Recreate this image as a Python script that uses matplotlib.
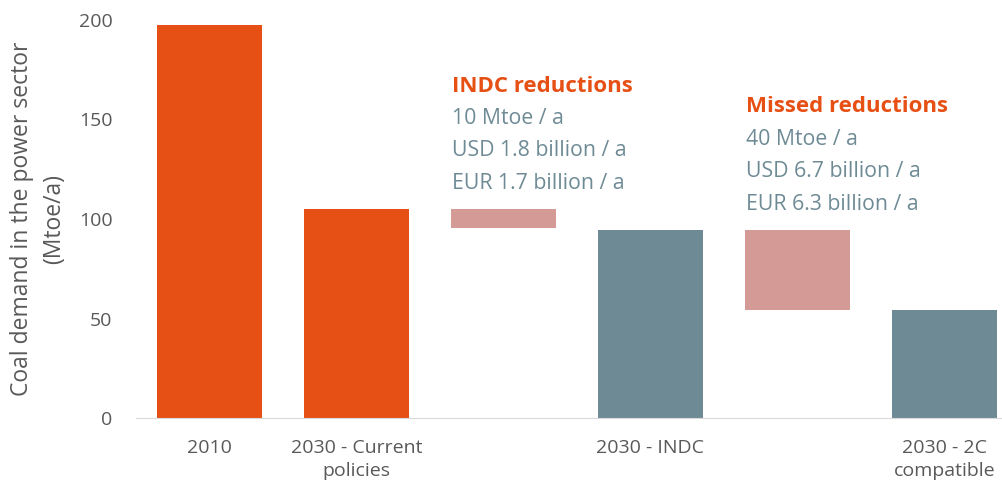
import matplotlib.pyplot as plt
import numpy as np

plt.rcParams['font.family'] = ['Open Sans', 'DejaVu Sans']

categories = ["2010", "2030 - Current\npolicies", "", "2030 - INDC", "", "2030 - 2C\ncompatible"]
totals = [197.5, 105.0, 0, 94.5, 0, 54.5]
total_colors = ["#E65014", "#E65014", "none", "#6E8B95", "none", "#6E8B95"]

# floating reduction bars: (position, low, high)
reduction_pos = [2, 4]
reduction_low = [95.5, 54.5]
reduction_high = [105.0, 94.5]

notes = [
    ("INDC reductions", ["10 Mtoe / a", "USD 1.8 billion / a", "EUR 1.7 billion / a"]),
    ("Missed reductions", ["40 Mtoe / a", "USD 6.7 billion / a", "EUR 6.3 billion / a"]),
]

orange = "#E65014"
teal = "#6E8B95"
pink = "#D49B96"
grey = "#595959"

fig = plt.figure(figsize=(10.03, 4.91), dpi=100)
ax = fig.add_axes([136 / 1003, 73 / 491, 882 / 1003, 398 / 491])

x = np.arange(len(categories))
w = 0.715
ax.bar(x, totals, width=w, color=total_colors, zorder=2)
low = np.array(reduction_low)
high = np.array(reduction_high)
ax.bar(reduction_pos, high - low, bottom=low, width=w, color=pink, zorder=2)

ax.set_xlim(-0.5, 5.5)
ax.set_ylim(0, 200)
ax.set_yticks([0, 50, 100, 150, 200])
ax.set_xticks(x)
ax.set_xticklabels(categories, linespacing=1.35)
ax.tick_params(axis='both', length=0, labelsize=14, labelcolor=grey)
ax.tick_params(axis='x', pad=15)
ax.tick_params(axis='y', pad=17)

for s in ['top', 'right', 'left']:
    ax.spines[s].set_visible(False)
ax.spines['bottom'].set_color('#D9D9D9')

ax.set_ylabel("Coal demand in the power sector\n(Mtoe/a)", fontsize=16.5,
              color=grey, linespacing=1.45)
ax.yaxis.set_label_coords(-70 / 882, 0.5)

# annotations above the floating bars
note_top = [166.8, 156.3]
for pos, top, (head, lines) in zip(reduction_pos, note_top, notes):
    xl = pos - w / 2 + 0.01
    ax.text(xl, top, head, color=orange, fontsize=16, fontweight='bold',
            ha='left', va='center')
    for i, line in enumerate(lines):
        ax.text(xl, top - 16.3 * (i + 1), line, color=teal, fontsize=15.3,
                ha='left', va='center')

fig.savefig("out.png", dpi=100)
